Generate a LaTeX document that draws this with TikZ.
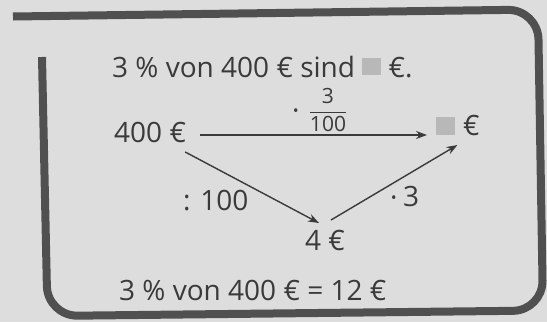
\documentclass[tikz,border=0pt]{standalone}
\usepackage{fontspec}
\setmainfont{Open Sans}
\usetikzlibrary{arrows.meta}
\definecolor{bg}{HTML}{DDDDDD}
\definecolor{framec}{HTML}{505050}
\definecolor{ink}{HTML}{3A3A3A}
\definecolor{sqc}{HTML}{B8B8B8}
\begin{document}
\begin{tikzpicture}[x=1pt,y=-1pt,
  txt/.style={inner sep=0pt, text=ink, font=\fontsize{28}{30}\selectfont},
  arr/.style={draw=ink, line width=1.4pt, -{Stealth[length=11pt,width=8pt]}},
  frameline/.style={draw=framec, line width=8pt, rounded corners=30pt},
  square/.style={fill=sqc, minimum width=19pt, minimum height=18pt, inner sep=0pt}]
\fill[bg] (0,0) rectangle (547,322);
\useasboundingbox (0,0) rectangle (547,322);
\draw[frameline] (13,16.5) -- (538,9.5) -- (543,310.5) -- (47.5,316) -- (42,57);
% texts
\node[txt, anchor=base west] (t1) at (112,77) {3 \% von 400 € sind \textcolor{sqc}{\raisebox{2pt}{\rule{19pt}{17pt}}} €.};
\node[txt, anchor=base west] (a) at (114,142) {400 €};
\node[square, anchor=south west] (b) at (436,135) {};
\node[txt, anchor=base west] (be) at (463,135) {€};
\node[txt, anchor=base west] (c) at (305,250) {4 €};
\node[txt, anchor=base west] (t2) at (119,300) {3 \% von 400 € = 12 €};
% labels
\node[txt, anchor=base west] (l1d) at (292,120) {·};
\node[inner sep=0pt, text=ink, anchor=center] (l1f) at (328,110) {\fontsize{21}{22}\selectfont$\displaystyle\frac{\mbox{3}}{\mbox{100}}$};
\node[txt, anchor=base west] (l2) at (183,210) {: 100};
\node[txt, anchor=base west] (l3d) at (390,207) {·};
\node[txt, anchor=base west] (l3) at (403,206) {3};
% arrows
\draw[arr] ([xshift=14pt,yshift=7pt]a.base east) -- ([xshift=-9pt]b.south west);
\draw[arr] ([xshift=-1pt,yshift=-10pt]a.base east) -- ([xshift=14pt,yshift=27pt]c.base west);
\draw[arr] ([xshift=26pt,yshift=30pt]c.base west) -- ([xshift=2pt,yshift=-10pt]b.south east);
\end{tikzpicture}
\end{document}
